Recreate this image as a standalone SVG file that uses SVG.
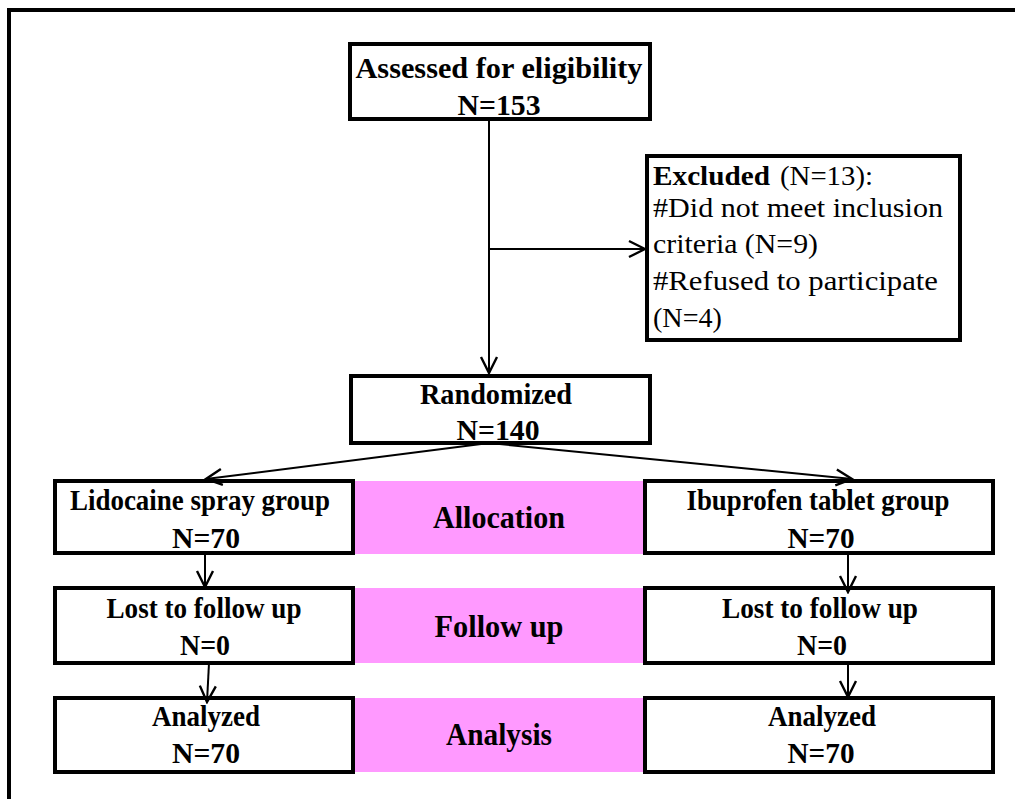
<svg xmlns="http://www.w3.org/2000/svg" width="1015" height="799" viewBox="0 0 1015 799">
<defs>
<style>
.box{fill:#fff;stroke:#000;stroke-width:4}
.band{fill:#ff99ff;stroke:none}
.t{font-family:"Liberation Serif",serif;font-weight:bold;font-size:29px;fill:#000;text-anchor:middle}
.band-t{font-family:"Liberation Serif",serif;font-weight:bold;font-size:31px;fill:#000;text-anchor:middle}
.ex{font-family:"Liberation Serif",serif;font-size:28px;fill:#000}
.conn{stroke:#000;stroke-width:2;fill:none}
</style>
<marker id="arr" viewBox="0 0 20 20" refX="18" refY="10" markerWidth="20" markerHeight="20" markerUnits="userSpaceOnUse" orient="auto">
<path d="M2,2 L18,10 L2,18" fill="none" stroke="#000" stroke-width="2.4"/>
</marker>
</defs>
<rect width="1015" height="799" fill="#fff"/>
<path d="M9,799 V10 H1015" fill="none" stroke="#000" stroke-width="4"/>

<g id="bands">
<rect class="band" x="353" y="481" width="292" height="73"/>
<rect class="band" x="353" y="588" width="292" height="75"/>
<rect class="band" x="353" y="698" width="292" height="74"/>
<text class="band-t" x="499" y="528" textLength="132" lengthAdjust="spacingAndGlyphs">Allocation</text>
<text class="band-t" x="499" y="637" textLength="129" lengthAdjust="spacingAndGlyphs">Follow up</text>
<text class="band-t" x="499" y="745" textLength="106" lengthAdjust="spacingAndGlyphs">Analysis</text>
</g>

<g id="assessed">
<rect class="box" x="350" y="44" width="300" height="75"/>
<text class="t" x="499" y="78" textLength="287" lengthAdjust="spacingAndGlyphs">Assessed for eligibility</text>
<text class="t" x="499" y="115" textLength="83" lengthAdjust="spacingAndGlyphs">N=153</text>
</g>

<g id="excluded">
<rect class="box" x="647" y="156" width="313" height="184"/>
<text class="ex" x="653" y="185"><tspan font-weight="bold" textLength="117" lengthAdjust="spacingAndGlyphs">Excluded</tspan><tspan x="780" textLength="93" lengthAdjust="spacingAndGlyphs">(N=13):</tspan></text>
<text class="ex" x="653" y="217" textLength="290" lengthAdjust="spacingAndGlyphs">#Did not meet inclusion</text>
<text class="ex" x="653" y="253" textLength="165" lengthAdjust="spacingAndGlyphs">criteria (N=9)</text>
<text class="ex" x="653" y="290" textLength="285" lengthAdjust="spacingAndGlyphs">#Refused to participate</text>
<text class="ex" x="653" y="327" textLength="69" lengthAdjust="spacingAndGlyphs">(N=4)</text>
</g>

<g id="randomized">
<rect class="box" x="351" y="376" width="299" height="67"/>
<text class="t" x="496" y="404" textLength="152" lengthAdjust="spacingAndGlyphs">Randomized</text>
<text class="t" x="498" y="440" textLength="83" lengthAdjust="spacingAndGlyphs">N=140</text>
</g>

<g id="lidocaine">
<rect class="box" x="55" y="481" width="298" height="72"/>
<text class="t" x="200" y="510" textLength="260" lengthAdjust="spacingAndGlyphs">Lidocaine spray group</text>
<text class="t" x="206" y="548" textLength="68" lengthAdjust="spacingAndGlyphs">N=70</text>
</g>

<g id="ibuprofen">
<rect class="box" x="645" y="481" width="348" height="72"/>
<text class="t" x="818" y="510" textLength="263" lengthAdjust="spacingAndGlyphs">Ibuprofen tablet group</text>
<text class="t" x="821" y="548" textLength="67" lengthAdjust="spacingAndGlyphs">N=70</text>
</g>

<g id="lost-left">
<rect class="box" x="55" y="588" width="298" height="75"/>
<text class="t" x="204" y="618" textLength="195" lengthAdjust="spacingAndGlyphs">Lost to follow up</text>
<text class="t" x="205" y="655" textLength="50" lengthAdjust="spacingAndGlyphs">N=0</text>
</g>

<g id="lost-right">
<rect class="box" x="645" y="588" width="348" height="75"/>
<text class="t" x="820" y="618" textLength="196" lengthAdjust="spacingAndGlyphs">Lost to follow up</text>
<text class="t" x="822" y="655" textLength="50" lengthAdjust="spacingAndGlyphs">N=0</text>
</g>

<g id="analyzed-left">
<rect class="box" x="55" y="698" width="298" height="74"/>
<text class="t" x="206" y="726" textLength="108" lengthAdjust="spacingAndGlyphs">Analyzed</text>
<text class="t" x="206" y="763" textLength="68" lengthAdjust="spacingAndGlyphs">N=70</text>
</g>

<g id="analyzed-right">
<rect class="box" x="645" y="698" width="348" height="74"/>
<text class="t" x="822" y="726" textLength="108" lengthAdjust="spacingAndGlyphs">Analyzed</text>
<text class="t" x="821" y="763" textLength="67" lengthAdjust="spacingAndGlyphs">N=70</text>
</g>

<g id="connectors">
<line class="conn" x1="489" y1="119" x2="489" y2="373" marker-end="url(#arr)"/>
<line class="conn" x1="489" y1="249" x2="645" y2="249" marker-end="url(#arr)"/>
<line class="conn" x1="489" y1="443" x2="206" y2="479" marker-end="url(#arr)"/>
<line class="conn" x1="489" y1="443" x2="852" y2="479" marker-end="url(#arr)"/>
<line class="conn" x1="205" y1="553" x2="205" y2="587" marker-end="url(#arr)"/>
<line class="conn" x1="848" y1="553" x2="848" y2="592" marker-end="url(#arr)"/>
<line class="conn" x1="209" y1="663" x2="207" y2="702" marker-end="url(#arr)"/>
<line class="conn" x1="848" y1="663" x2="848" y2="697" marker-end="url(#arr)"/>
</g>
</svg>
